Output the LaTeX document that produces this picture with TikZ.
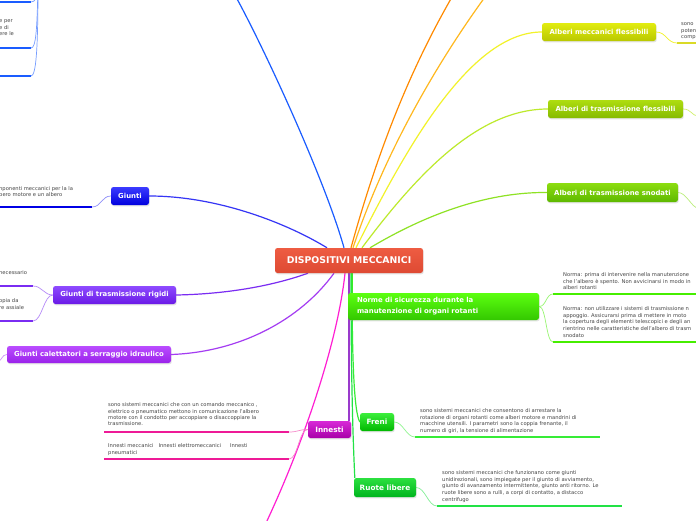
\documentclass[tikz,border=0pt]{standalone}
\usepackage{fontspec}
\setmainfont{DejaVu Sans}
\usetikzlibrary{shadows,backgrounds}
\definecolor{redT}{HTML}{EE5C42}
\definecolor{redB}{HTML}{DE4A33}
\definecolor{blueT}{HTML}{3B3BFF}
\definecolor{blueB}{HTML}{0000DD}
\definecolor{rigT}{HTML}{8E4BFF}
\definecolor{rigB}{HTML}{6A1AE6}
\definecolor{calT}{HTML}{BA4DFF}
\definecolor{calB}{HTML}{9A22EA}
\definecolor{innT}{HTML}{D829D8}
\definecolor{innB}{HTML}{A800A8}
\definecolor{amfT}{HTML}{E2EC10}
\definecolor{amfB}{HTML}{B9C800}
\definecolor{atfT}{HTML}{AEDD10}
\definecolor{atfB}{HTML}{86BA00}
\definecolor{atsT}{HTML}{8CDD10}
\definecolor{atsB}{HTML}{5EB800}
\definecolor{norT}{HTML}{5CFF10}
\definecolor{norB}{HTML}{33C800}
\definecolor{freT}{HTML}{3CEE3C}
\definecolor{freB}{HTML}{00B800}
\definecolor{ruoT}{HTML}{2CE040}
\definecolor{ruoB}{HTML}{00B41E}
\definecolor{txt}{HTML}{444444}
\definecolor{lBlueTop}{HTML}{1A5CFF}
\definecolor{lGiunti}{HTML}{3535F5}
\definecolor{lRig}{HTML}{7A2CF2}
\definecolor{lCal}{HTML}{A43CF2}
\definecolor{lMag}{HTML}{FF1ED2}
\definecolor{lInn}{HTML}{9A3ACC}
\definecolor{lOra}{HTML}{FF8A00}
\definecolor{lGold}{HTML}{FFB81E}
\definecolor{lYel}{HTML}{F2F22A}
\definecolor{lAtf}{HTML}{BDEA2C}
\definecolor{lAts}{HTML}{8EE224}
\definecolor{lNor}{HTML}{46EE00}
\definecolor{lFre}{HTML}{36EC36}
\definecolor{lRuo}{HTML}{22E246}
\tikzset{
  br/.style={rounded corners=2.5pt, inner sep=0pt, text=white,
    font=\fontsize{6.9}{8.3}\selectfont\bfseries,
    drop shadow={opacity=0.22, shadow xshift=0.7pt, shadow yshift=-1.3pt}},
  body/.style={anchor=north west, inner sep=0pt, align=left, text=txt,
    font=\fontsize{5.2}{6.6}\selectfont},
  uline/.style={line width=2.4pt},
  conn/.style={line width=0.7pt},
  trunk/.style={line width=1.2pt},
}
\begin{document}
\begin{tikzpicture}[x=1pt,y=-1pt]
\useasboundingbox (0,0) rectangle (696,520);

% ---------- nodes ----------
\node[br, minimum width=148pt, minimum height=25pt, top color=redT, bottom color=redB,
  font=\fontsize{9.3}{11}\selectfont\bfseries] (c) at (349,260.5) {DISPOSITIVI MECCANICI};
\node[br, minimum width=38pt, minimum height=18pt, top color=blueT, bottom color=blueB] (giunti) at (130,196) {Giunti};
\node[br, minimum width=123pt, minimum height=18pt, top color=rigT, bottom color=rigB] (rigidi) at (114.5,295) {Giunti di trasmissione rigidi};
\node[br, minimum width=164pt, minimum height=17pt, top color=calT, bottom color=calB] (calett) at (89,354.5) {Giunti calettatori a serraggio idraulico};
\node[br, minimum width=43pt, minimum height=17pt, top color=innT, bottom color=innB,
  font=\fontsize{7.3}{8.5}\selectfont\bfseries] (innesti) at (329.5,429.5) {Innesti};
\node[br, minimum width=114pt, minimum height=18pt, top color=amfT, bottom color=amfB] (amf) at (599,32) {Alberi meccanici flessibili};
\node[br, minimum width=135pt, minimum height=18pt, top color=atfT, bottom color=atfB] (atf) at (615.5,109) {Alberi di trasmissione flessibili};
\node[br, minimum width=131pt, minimum height=19pt, top color=atsT, bottom color=atsB] (ats) at (612.5,192.5) {Alberi di trasmissione snodati};
\node[br, minimum width=191pt, minimum height=27pt, top color=norT, bottom color=norB,
  inner xsep=9pt, text width=173pt, align=left,
  font=\fontsize{6.9}{11}\selectfont\bfseries] (norme) at (443.5,306.5) {Norme di sicurezza durante la\\manutenzione di organi rotanti};
\node[br, minimum width=34pt, minimum height=18pt, top color=freT, bottom color=freB,
  font=\fontsize{7.3}{8.5}\selectfont\bfseries] (freni) at (377,422) {Freni};
\node[br, minimum width=62pt, minimum height=19pt, top color=ruoT, bottom color=ruoB,
  font=\fontsize{7.3}{8.5}\selectfont\bfseries] (ruote) at (385,487.5) {Ruote libere};

% ---------- body texts ----------
\node[body] (ttl) at (-1,19.6) {e per\\e di\\ere le};
\node[body, font=\fontsize{5.2}{6.1}\selectfont] (tg) at (-1,186) {nponenti meccanici per la la\\bero motore e un albero};
\node[body] (tr1) at (-1,270.6) {necessario};
\node[body] (tr2) at (-1,298.6) {opia da\\re assiale};
\node[body, font=\fontsize{5.2}{6.4}\selectfont] (ti1) at (108,402.6) {sono sistemi meccanici che con un comando meccanico ,\\elettrico o pneumatico mettono in comunicazione l'albero\\motore con il condotto per accoppiare o disaccoppiare la\\trasmissione.};
\node[body] (ti2) at (108,443.6) {Innesti meccanici\hspace{5pt}Innesti elettromeccanici\hspace{9pt}Innesti\\pneumatici};
\node[body] (tamf) at (681,22.6) {sono\\poten\\comp};
\node[body] (tn1) at (563,272.6) {Norma: prima di intervenire nella manutenzione\\che l'albero è spento. Non avvicinarsi in modo in\\alberi rotanti};
\node[body] (tn2) at (563,306.6) {Norma: non utilizzare i sistemi di trasmissione n\\appoggio. Assicurarsi prima di mettere in moto\\la copertura degli elementi telescopici e degli an\\rientrino nelle caratteristiche dell'albero di trasm\\snodato};
\node[body] (tf) at (420,408.6) {sono sistemi meccanici che consentono di arrestare la\\rotazione di organi rotanti come alberi motore e mandrini di\\macchine utensili. I parametri sono la coppia frenante, il\\numero di giri, la tensione di alimentazione};
\node[body] (trl) at (442,470.6) {sono sistemi meccanici che funzionano come giunti\\unidirezionali, sono impiegate per il giunto di avviamento,\\giunto di avanzamento intermittente, giunto anti ritorno. Le\\ruote libere sono a rulli, a corpi di contatto, a distacco\\centrifugo};

% ---------- coordinates ----------
\coordinate (topb) at (236,-3);
\coordinate (tlp) at (38,-14);
\coordinate (tl1a) at (-2,2);   \coordinate (tl1b) at (31,2);
\coordinate (tl2a) at (-2,48);  \coordinate (tl2b) at (31,48);
\coordinate (tl3a) at (-2,76);  \coordinate (tl3b) at (31,76);
\coordinate (g1a) at (-2,207);  \coordinate (g1b) at (92,207);
\coordinate (r1a) at (-2,286);  \coordinate (r1b) at (33,286);
\coordinate (r2a) at (-2,321);  \coordinate (r2b) at (33,321);
\coordinate (cal1) at (-2,361);
\coordinate (magend) at (266,523);
\coordinate (oraend) at (452,-3);
\coordinate (goldend) at (485,-3);
\coordinate (i1a) at (104,432); \coordinate (i1b) at (289,432);
\coordinate (i2a) at (104,459); \coordinate (i2b) at (289,459);
\coordinate (am1a) at (677,43); \coordinate (am1b) at (698,43);
\coordinate (af1) at (698,116);
\coordinate (as1) at (698,208);
\coordinate (n1a) at (553,294); \coordinate (n1b) at (698,294);
\coordinate (n2a) at (553,342); \coordinate (n2b) at (698,342);
\coordinate (f1a) at (415,437); \coordinate (f1b) at (600,437);
\coordinate (rl1a) at (437,506); \coordinate (rl1b) at (622,506);

% ---------- connectors ----------
\begin{scope}[on background layer]
\fill[white] (0,0) rectangle (696,520);
% main branches
\draw[trunk, lBlueTop] ([xshift=-5pt]c.north) .. controls (325,180) and (265,50) .. (topb);
\draw[trunk, lGiunti] ([xshift=-22pt]c.north) .. controls (290,225) and (220,196) .. (giunti.east);
\draw[trunk, lRig] ([xshift=-41pt]c.south) .. controls (275,285) and (230,294) .. (rigidi.east);
\draw[trunk, lCal] ([xshift=-15pt]c.south) .. controls (300,320) and (240,352) .. (calett.east);
\draw[trunk, lMag] ([xshift=-4pt]c.south) .. controls (338,340) and (305,440) .. (magend);
\draw[trunk, lInn] (c.south) -- (c.south |- innesti.north);
\draw[trunk, lOra] ([xshift=2pt]c.north) .. controls (378,150) and (410,70) .. (oraend);
\draw[trunk, lGold] ([xshift=4pt]c.north) .. controls (382,160) and (432,70) .. (goldend);
\draw[trunk, lYel] ([xshift=7pt]c.north) .. controls (405,150) and (470,32) .. (amf.west);
\draw[trunk, lAtf] ([xshift=13pt]c.north) .. controls (420,170) and (480,109) .. (atf.west);
\draw[trunk, lAts] ([xshift=21pt]c.north) .. controls (430,212) and (490,192) .. (ats.west);
\draw[trunk, lNor] ([xshift=3pt]c.south) -- ([xshift=3pt]c.south |- norme.north);
\draw[trunk, lFre] ([xshift=3pt]c.south) .. controls (352,360) and (354,412) .. (freni.west);
\draw[trunk, lRuo] ([xshift=2pt]c.south) .. controls (351,380) and (353,440) .. ([xshift=1pt]ruote.north west);
% sub branches: underlines
\draw[uline, lBlueTop] (tl1a) -- (tl1b);
\draw[uline, lBlueTop] (tl2a) -- (tl2b);
\draw[uline, lBlueTop] (tl3a) -- (tl3b);
\draw[uline, blue!90!black] (g1a) -- (g1b);
\draw[uline, lRig] (r1a) -- (r1b);
\draw[uline, lRig] (r2a) -- (r2b);
\draw[uline, magenta!90!white] (i1a) -- (i1b);
\draw[uline, magenta!90!white] (i2a) -- (i2b);
\draw[uline, lYel!90!black] (am1a) -- (am1b);
\draw[uline, lNor] (n1a) -- (n1b);
\draw[uline, lNor] (n2a) -- (n2b);
\draw[uline, lFre] (f1a) -- (f1b);
\draw[uline, lRuo] (rl1a) -- (rl1b);
% sub branches: thin links
\draw[conn, lBlueTop!60] (tlp) .. controls (38,-2) and (35,2) .. (tl1b);
\draw[conn, lBlueTop!60] (tlp) .. controls (37,30) and (36,48) .. (tl2b);
\draw[conn, lBlueTop!60] (tlp) .. controls (38,50) and (36,76) .. (tl3b);
\draw[conn, lGiunti!55] (giunti.west) .. controls +(-9,0) and +(9,0) .. (g1b);
\draw[conn, lRig!55] (rigidi.west) .. controls +(-9,0) and +(9,0) .. (r1b);
\draw[conn, lRig!55] (rigidi.west) .. controls +(-9,0) and +(9,0) .. (r2b);
\draw[conn, lCal!55] (calett.west) .. controls +(-5,0) and +(4,0) .. (cal1);
\draw[conn, magenta!45] (innesti.west) .. controls +(-9,0) and +(9,0) .. (i1b);
\draw[conn, magenta!45] (innesti.west) .. controls +(-9,0) and +(9,0) .. (i2b);
\draw[conn, lYel] (amf.east) .. controls +(10,0) and +(-10,0) .. (am1a);
\draw[conn, lAtf!70] (atf.east) .. controls +(8,0) and +(-6,0) .. (af1);
\draw[conn, lAts!60] (ats.east) .. controls +(8,0) and +(-6,0) .. (as1);
\draw[conn, lNor!55] (norme.east) .. controls +(7,0) and +(-7,0) .. (n1a);
\draw[conn, lNor!55] (norme.east) .. controls +(7,0) and +(-7,0) .. (n2a);
\draw[conn, lFre!55] (freni.east) .. controls +(9,0) and +(-9,0) .. (f1a);
\draw[conn, lRuo!55] (ruote.east) .. controls +(9,0) and +(-9,0) .. (rl1a);
\end{scope}
\end{tikzpicture}
\end{document}
